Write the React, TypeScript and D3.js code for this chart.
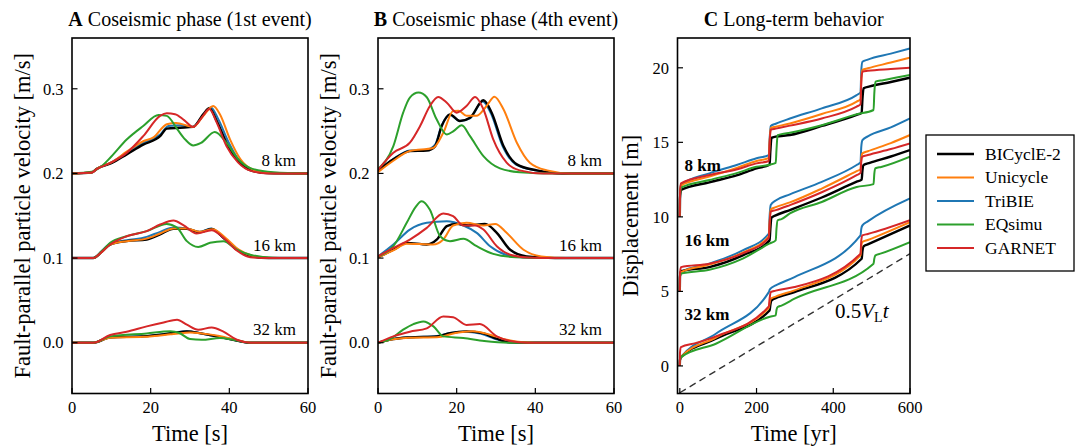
import React from "react";
import * as d3 from "d3";

type Pt = [number, number];

// ---------- shared labels / styling data ----------
const MODELS = ["BICyclE-2", "Unicycle", "TriBIE", "EQsimu", "GARNET"];
const MODEL_COLORS = ["#000000", "#ff7f0e", "#1f77b4", "#2ca02c", "#d62728"];
const DRAW_ORDER = [2, 0, 1, 3, 4];
const DEPTHS = ["8 km", "16 km", "32 km"];
const VEL_OFFSETS = [0.2, 0.1, 0.0];
const DISP_OFFSETS = [10, 5, 0];
const VEL_TICKS = [0, 0.1, 0.2, 0.3];
const SEC_TICKS = [0, 20, 40, 60];
const DISP_TICKS = [0, 5, 10, 15, 20];
const YR_TICKS = [0, 200, 400, 600];
const PLATE_LINE: Pt[] = [[0, -1.8], [600, 7.53]];

// ---------- Panel A: 1st event, velocity [m/s] vs time [s] ----------
// order of each list: BICyclE-2, Unicycle, TriBIE, EQsimu, GARNET
const A_8KM: Pt[][] = [
  [[0,0],[5,0.001],[6.3,0.0055],[10,0.012],[13.9,0.0225],[18.1,0.034],[22.4,0.044],[24.1,0.053],[27.5,0.054],[30.8,0.055],[33.4,0.07],[34.9,0.077],[36.8,0.062],[39.3,0.036],[41.9,0.0166],[45.3,0.004],[49.5,0.0005],[60,0]],
  [[0,0],[5,0.001],[6.3,0.0055],[10,0.013],[14,0.026],[18.1,0.038],[20.7,0.0425],[24.1,0.058],[26.5,0.0596],[30.8,0.055],[33.4,0.068],[35.9,0.0797],[37.6,0.07],[40.2,0.04],[42.8,0.017],[46.2,0.004],[50,0.0005],[60,0]],
  [[0,0],[5,0.001],[6.3,0.0055],[10,0.013],[14,0.025],[18.1,0.036],[22.4,0.046],[24.5,0.056],[27.5,0.057],[30.8,0.055],[33.4,0.069],[35.3,0.078],[37.2,0.064],[39.8,0.037],[42.4,0.016],[45.8,0.004],[50,0.0005],[60,0]],
  [[0,0],[5,0.002],[7.1,0.007],[10,0.02],[13.9,0.04],[18.1,0.056],[22,0.069],[24.1,0.068],[26.8,0.052],[28.8,0.04],[30.8,0.033],[32.8,0.036],[36.3,0.049],[39.3,0.036],[42.2,0.017],[45.5,0.006],[51.2,0.0015],[60,0]],
  [[0,0],[5,0.001],[6.3,0.005],[10,0.013],[13.9,0.0243],[18.1,0.044],[22.4,0.068],[24.1,0.071],[26.2,0.07],[28.5,0.063],[30.8,0.055],[33,0.066],[34.9,0.076],[36.8,0.06],[39.3,0.032],[42.2,0.013],[45.5,0.003],[50,0],[60,0]],
];
const A_16KM: Pt[][] = [
  [[0,0],[5.4,0],[7.5,0.007],[9.7,0.016],[13.9,0.02],[19,0.022],[22.4,0.028],[25.8,0.0345],[29.2,0.0345],[32.5,0.0306],[35.5,0.0345],[38.5,0.024],[41.9,0.01],[45.3,0.0025],[50,0],[60,0]],
  [[0,0],[5.4,0],[7.5,0.007],[9.7,0.016],[13.9,0.02],[19,0.023],[22.4,0.029],[25.8,0.035],[29.2,0.035],[32.5,0.031],[35.8,0.034],[39,0.024],[42.4,0.01],[46,0.0025],[50,0],[60,0]],
  [[0,0],[5.4,0],[7.5,0.008],[9.7,0.017],[13.9,0.021],[19,0.025],[22.4,0.031],[25.8,0.036],[29.2,0.035],[32.5,0.031],[35.3,0.035],[38.5,0.024],[41.9,0.01],[45.3,0.0025],[50,0],[60,0]],
  [[0,0],[5.4,0],[7.5,0.008],[9.7,0.018],[13.9,0.0258],[19,0.0318],[24.1,0.0404],[26.7,0.036],[29.2,0.02],[32.1,0.0132],[35.1,0.018],[38.5,0.02],[41.9,0.01],[45.3,0.004],[51,0.0005],[60,0]],
  [[0,0],[5.4,0],[7.5,0.007],[9.7,0.016],[13.9,0.0258],[19,0.0318],[22.4,0.0396],[25.8,0.0444],[28.4,0.0385],[31.7,0.029],[35.5,0.033],[38.5,0.024],[41.9,0.009],[45.3,0.001],[50,0],[60,0]],
];
const A_32KM: Pt[][] = [
  [[0,0],[5.4,0],[9.7,0.0063],[18.1,0.0075],[25.8,0.0114],[29.2,0.0134],[32.8,0.011],[36.8,0.0075],[41,0.0035],[45,0],[60,0]],
  [[0,0],[5.4,0],[9.7,0.006],[18.1,0.007],[25,0.01],[27,0.011],[30,0.012],[33,0.011],[37.5,0.008],[41.5,0.0035],[46,0],[60,0]],
  [[0,0],[5.4,0],[9.7,0.0063],[18.1,0.0078],[25.8,0.0118],[29.2,0.0136],[32.8,0.011],[36.8,0.0075],[41,0.0035],[45,0],[60,0]],
  [[0,0],[5.4,0],[9.7,0.0075],[19,0.011],[25,0.0134],[27.3,0.0114],[30,0.0043],[33,0.0035],[37.6,0.0055],[41,0.0035],[45,0],[60,0]],
  [[0,0],[5.4,0],[9.7,0.0091],[13.9,0.013],[19,0.0193],[23.3,0.024],[26.7,0.0272],[29.2,0.0213],[32.1,0.0153],[35.5,0.018],[38.5,0.013],[41.9,0.0035],[45.3,0],[60,0]],
];

// ---------- Panel B: 4th event ----------
const B_8KM: Pt[][] = [
  [[0,0.003],[3.9,0.0166],[8.1,0.0264],[12.4,0.027],[14.5,0.032],[16.2,0.056],[18.3,0.0698],[20.8,0.062],[23.4,0.0659],[26.8,0.0864],[28.9,0.0718],[31.9,0.0323],[35.3,0.0107],[40.4,0.0036],[47,0],[60,0]],
  [[0,0.0015],[3.9,0.015],[8.1,0.0264],[14,0.03],[16.6,0.048],[19.1,0.0737],[20.5,0.074],[22.5,0.068],[25,0.068],[27.6,0.0797],[29.6,0.0907],[31.9,0.0758],[35.3,0.0363],[38.6,0.0127],[43,0.0036],[49,0],[60,0]],
  [[0,0.003],[3.9,0.017],[8.1,0.027],[12.4,0.028],[14.5,0.034],[16.2,0.057],[18.3,0.069],[20.8,0.062],[23.4,0.065],[26.6,0.085],[28.7,0.071],[31.7,0.032],[35,0.0107],[40,0.0036],[47,0],[60,0]],
  [[0,0.005],[3.9,0.0323],[6.4,0.0718],[8.1,0.0896],[10.3,0.0955],[12.4,0.09],[14.9,0.0639],[17.5,0.046],[19.2,0.05],[21.3,0.0568],[23.4,0.044],[26.8,0.0205],[31,0.006],[36,0.0015],[45,0],[60,0]],
  [[0,0.004],[3.9,0.0245],[8.1,0.0363],[10.7,0.056],[13.2,0.0797],[15.3,0.0903],[17.5,0.0836],[20,0.0718],[22.5,0.0797],[24.7,0.0903],[26.8,0.0758],[29.3,0.0402],[32.7,0.0127],[36,0.0036],[42,0],[60,0]],
];
const B_16KM: Pt[][] = [
  [[0,0.001],[3.9,0.0098],[7.3,0.018],[12.4,0.016],[15,0.022],[17.5,0.0377],[20,0.0404],[23,0.0385],[27.2,0.0404],[30.2,0.0298],[33.6,0.0098],[37.8,0.002],[45,0],[60,0]],
  [[0,0.001],[3.9,0.009],[7.3,0.017],[14,0.016],[16.6,0.022],[19.1,0.0385],[22.5,0.0416],[26.8,0.0385],[29.8,0.0404],[32.7,0.0298],[37,0.0098],[41.5,0.002],[48,0],[60,0]],
  [[0,0.002],[3.9,0.016],[8.1,0.0337],[12.4,0.0416],[17.5,0.0436],[21.7,0.0385],[25.1,0.0298],[28.5,0.014],[32.5,0.004],[37,0.0008],[45,0],[60,0]],
  [[0,0.002],[3.9,0.014],[7.3,0.0416],[9.5,0.06],[11.1,0.0672],[13.2,0.057],[15.8,0.0258],[18.3,0.02],[21.7,0.0227],[25.1,0.014],[29.3,0.005],[35,0.001],[45,0],[60,0]],
  [[0,0.002],[3.9,0.012],[8.1,0.0219],[12.4,0.0357],[16.6,0.0527],[19.1,0.0495],[21.7,0.0385],[24.7,0.0385],[26.8,0.0337],[30.2,0.014],[33.6,0.004],[38,0.0008],[45,0],[60,0]],
];
const B_32KM: Pt[][] = [
  [[0,0],[3.9,0.0043],[8.1,0.0063],[15,0.0075],[18.3,0.0114],[22.5,0.0134],[26.8,0.011],[30.2,0.0047],[33.6,0.0005],[38,0],[60,0]],
  [[0,0],[3.9,0.004],[8.1,0.006],[15,0.0065],[19.7,0.0114],[24.1,0.0134],[28.5,0.0095],[32.7,0.0035],[37,0.0005],[40,0],[60,0]],
  [[0,0],[3.9,0.0045],[8.1,0.0065],[15,0.008],[18.3,0.0115],[22,0.013],[26,0.011],[29.5,0.005],[33,0.0005],[38,0],[60,0]],
  [[0,0],[3,0.004],[6.4,0.0154],[9,0.022],[11.5,0.0252],[14.1,0.0193],[16.6,0.0075],[21.7,0.0055],[27,0.002],[33,0],[60,0]],
  [[0,0],[3.9,0.0075],[8.1,0.013],[12.4,0.017],[16.6,0.031],[19.1,0.03],[22.5,0.021],[25.9,0.0221],[30.2,0.0075],[33.6,0.002],[38,0],[60,0]],
];

// ---------- Panel C: displacement [m] vs time [yr] ----------
const C_8KM: Pt[][] = [
  [[0,0],[0.5,1.2],[3,1.8],[77,2.32],[150,2.8],[200,3.26],[234,3.5],[236,4.4],[239,5.3],[250,5.38],[287,5.49],[370,6.1],[461,6.85],[474,6.98],[476,7.9],[479,8.62],[495,8.75],[550,9.05],[600,9.34]],
  [[0,0],[0.5,1.5],[3,2.1],[77,2.7],[150,3.3],[200,3.75],[232,3.95],[234,5.0],[237,5.97],[250,6.05],[287,6.27],[370,6.9],[461,7.73],[471,7.9],[473,9.2],[476,9.86],[490,9.97],[550,10.35],[600,10.68]],
  [[0,0],[0.5,1.5],[3,2.15],[77,2.92],[150,3.5],[200,3.93],[232,4.15],[234,5.2],[237,6.1],[250,6.25],[287,6.6],[370,7.28],[461,8.17],[471,8.35],[473,9.8],[476,10.4],[490,10.55],[550,10.95],[600,11.3]],
  [[0,0],[0.5,1.4],[3,1.96],[77,2.47],[150,2.95],[200,3.36],[235,3.5],[250,3.62],[252,4.5],[255,5.48],[265,5.55],[287,5.65],[370,6.15],[461,6.88],[505,7.17],[507,8.3],[510,9.07],[530,9.17],[600,9.52]],
  [[0,0],[0.5,1.6],[3,2.25],[77,2.81],[150,3.2],[200,3.59],[232,3.75],[234,4.9],[237,5.85],[250,5.92],[287,6.12],[370,6.6],[461,7.4],[471,7.55],[473,9.0],[476,9.74],[490,9.8],[550,9.92],[600,10.0]],
];
const C_16KM: Pt[][] = [
  [[0,0],[0.5,1.0],[3,1.35],[77,1.63],[164,2.42],[234,3.42],[236,4.2],[239,4.95],[250,5.1],[287,5.46],[370,6.3],[461,7.36],[474,7.5],[476,8.1],[479,8.48],[495,8.62],[550,9.05],[600,9.48]],
  [[0,0],[0.5,1.0],[3,1.3],[77,1.8],[164,2.6],[232,3.69],[234,4.6],[237,5.5],[250,5.65],[287,5.97],[370,6.9],[461,8.07],[471,8.2],[473,8.9],[476,9.26],[490,9.4],[550,9.95],[600,10.49]],
  [[0,0],[0.5,1.0],[3,1.3],[77,1.86],[164,2.75],[232,3.87],[234,5.0],[237,5.8],[250,6.1],[287,6.51],[370,7.35],[461,8.48],[471,8.65],[473,9.7],[476,10.15],[490,10.4],[550,11.0],[600,11.6]],
  [[0,0],[0.5,1.0],[3,1.19],[77,1.45],[164,2.2],[233,3.2],[250,3.42],[252,4.2],[255,4.77],[265,4.85],[287,5.23],[370,6.0],[461,7.0],[505,7.2],[507,7.9],[510,8.26],[525,8.35],[600,9.04]],
  [[0,0],[0.5,1.2],[3,1.63],[77,1.86],[164,2.55],[232,3.6],[234,4.5],[237,5.35],[250,5.45],[287,5.79],[370,6.65],[461,7.8],[471,7.95],[473,8.7],[476,9.04],[490,9.15],[550,9.55],[600,9.93]],
];
const C_32KM: Pt[][] = [
  [[0,0],[0.5,0.4],[3,0.59],[94,1.82],[234,3.72],[236,4.1],[239,4.4],[250,4.55],[299,4.95],[474,7.19],[476,7.7],[479,8.02],[490,8.15],[600,9.43]],
  [[0,0],[0.5,0.4],[3,0.59],[94,1.9],[232,3.9],[234,4.2],[237,4.5],[250,4.65],[299,5.07],[471,7.42],[473,8.0],[476,8.31],[490,8.45],[600,9.65]],
  [[0,0],[0.5,0.4],[3,0.59],[94,2.16],[232,4.95],[234,5.1],[237,5.2],[250,5.4],[299,5.96],[471,8.76],[473,9.2],[476,9.43],[490,9.7],[600,11.24]],
  [[0,0],[0.5,0.4],[3,0.59],[94,1.49],[235,3.3],[250,3.39],[252,3.75],[255,3.95],[265,4.05],[299,4.51],[505,6.86],[507,7.2],[510,7.42],[525,7.55],[600,8.31]],
  [[0,0],[0.5,0.9],[3,1.26],[41,1.53],[94,1.98],[232,3.99],[234,4.5],[237,4.95],[250,5.05],[299,5.29],[471,7.53],[473,8.4],[476,8.76],[490,8.85],[600,9.77]],
];

const A_DATA = [A_8KM, A_16KM, A_32KM];
const B_DATA = [B_8KM, B_16KM, B_32KM];
const C_DATA = [C_8KM, C_16KM, C_32KM];

// ---------- layout ----------
const FONT = "'Liberation Serif', 'Times New Roman', serif";
const TOP = 38;
const BOTTOM = 393.5;
const TICK_FS = 16.5;
const LABEL_FS = 22.5;

function Frame({ x0, x1 }: { x0: number; x1: number }) {
  return <rect x={x0} y={TOP} width={x1 - x0} height={BOTTOM - TOP} fill="none" stroke="#000" strokeWidth={1.6} />;
}

function Title({ cx, letter, text }: { cx: number; letter: string; text: string }) {
  return (
    <text x={cx} y={26} textAnchor="middle" fontFamily={FONT} fontSize={20} fill="#000">
      <tspan fontWeight="bold">{letter}</tspan>
      <tspan>{" " + text}</tspan>
    </text>
  );
}

function VelPanel({ id, x0, x1, letter, title, data }: { id: string; x0: number; x1: number; letter: string; title: string; data: Pt[][][] }) {
  const x = d3.scaleLinear().domain([0, 60]).range([x0, x1]);
  const y = d3.scaleLinear().domain([-0.06, 0.36]).range([BOTTOM, TOP]);
  const cx = (x0 + x1) / 2;
  const cy = (TOP + BOTTOM) / 2;
  return (
    <g>
      <defs>
        <clipPath id={id}>
          <rect x={x0} y={TOP} width={x1 - x0} height={BOTTOM - TOP} />
        </clipPath>
      </defs>
      <g clipPath={`url(#${id})`}>
        {data.map((group, gi) =>
          DRAW_ORDER.map((mi) => {
            const line = d3
              .line<Pt>()
              .x((d) => x(d[0]))
              .y((d) => y(d[1] + VEL_OFFSETS[gi]))
              .curve(d3.curveMonotoneX);
            return (
              <path key={`${gi}-${mi}`} d={line(group[mi]) || ""} fill="none" stroke={MODEL_COLORS[mi]} strokeWidth={mi === 0 ? 2.4 : 2} strokeLinejoin="round" />
            );
          })
        )}
      </g>
      {DEPTHS.map((lab, gi) => (
        <text key={lab} x={x1 - 12} y={y(VEL_OFFSETS[gi]) - 7.5} textAnchor="end" fontFamily={FONT} fontSize={17} fill="#000">
          {lab}
        </text>
      ))}
      <Frame x0={x0} x1={x1} />
      {VEL_TICKS.map((t) => (
        <g key={t}>
          <line x1={x0} x2={x0 + 5.5} y1={y(t)} y2={y(t)} stroke="#000" strokeWidth={1.2} />
          <text x={x0 - 8.5} y={y(t)} dy="0.35em" textAnchor="end" fontFamily={FONT} fontSize={TICK_FS} fill="#000">
            {t.toFixed(1)}
          </text>
        </g>
      ))}
      {SEC_TICKS.map((t) => (
        <g key={t}>
          <line x1={x(t)} x2={x(t)} y1={BOTTOM} y2={BOTTOM - 5.5} stroke="#000" strokeWidth={1.2} />
          <text x={x(t)} y={413} textAnchor="middle" fontFamily={FONT} fontSize={TICK_FS} fill="#000">
            {t}
          </text>
        </g>
      ))}
      <text x={cx} y={441} textAnchor="middle" fontFamily={FONT} fontSize={LABEL_FS} fill="#000">
        Time [s]
      </text>
      <text transform={`translate(${x0 - 42},${cy}) rotate(-90)`} textAnchor="middle" fontFamily={FONT} fontSize={LABEL_FS} fill="#000">
        Fault-parallel particle velocity [m/s]
      </text>
      <Title cx={cx} letter={letter} text={title} />
    </g>
  );
}

function DispPanel({ x0, x1 }: { x0: number; x1: number }) {
  const x = d3.scaleLinear().domain([-6, 600]).range([x0, x1]);
  const y = d3.scaleLinear().domain([-1.85, 22]).range([BOTTOM, TOP]);
  const cx = (x0 + x1) / 2;
  const cy = (TOP + BOTTOM) / 2;
  const dashed = d3.line<Pt>().x((d) => x(d[0])).y((d) => y(d[1]));
  return (
    <g>
      <defs>
        <clipPath id="clipC">
          <rect x={x0} y={TOP} width={x1 - x0} height={BOTTOM - TOP} />
        </clipPath>
      </defs>
      <g clipPath="url(#clipC)">
        <path d={dashed(PLATE_LINE) || ""} fill="none" stroke="#333" strokeWidth={1.4} strokeDasharray="7,4.5" />
        {C_DATA.map((group, gi) =>
          DRAW_ORDER.map((mi) => {
            const line = d3
              .line<Pt>()
              .x((d) => x(d[0]))
              .y((d) => y(d[1] + DISP_OFFSETS[gi]))
              .curve(d3.curveMonotoneX);
            return (
              <path key={`${gi}-${mi}`} d={line(group[mi]) || ""} fill="none" stroke={MODEL_COLORS[mi]} strokeWidth={mi === 0 ? 2.4 : 2} strokeLinejoin="round" />
            );
          })
        )}
      </g>
      {DEPTHS.map((lab, gi) => (
        <text key={lab} x={x0 + 7} y={y(DISP_OFFSETS[gi] + 3.05)} fontFamily={FONT} fontWeight="bold" fontSize={17} fill="#000">
          {lab}
        </text>
      ))}
      <text x={835} y={318} fontFamily={FONT} fontSize={21} fill="#000">
        <tspan>0.5</tspan>
        <tspan fontStyle="italic">V</tspan>
        <tspan fontSize={14} dy={4}>L</tspan>
        <tspan fontStyle="italic" dy={-4}>t</tspan>
      </text>
      <Frame x0={x0} x1={x1} />
      {DISP_TICKS.map((t) => (
        <g key={t}>
          <line x1={x0} x2={x0 + 5.5} y1={y(t)} y2={y(t)} stroke="#000" strokeWidth={1.2} />
          <text x={x0 - 8.5} y={y(t)} dy="0.35em" textAnchor="end" fontFamily={FONT} fontSize={TICK_FS} fill="#000">
            {t}
          </text>
        </g>
      ))}
      {YR_TICKS.map((t) => (
        <g key={t}>
          <line x1={x(t)} x2={x(t)} y1={BOTTOM} y2={BOTTOM - 5.5} stroke="#000" strokeWidth={1.2} />
          <text x={x(t)} y={413} textAnchor="middle" fontFamily={FONT} fontSize={TICK_FS} fill="#000">
            {t}
          </text>
        </g>
      ))}
      <text x={cx} y={441} textAnchor="middle" fontFamily={FONT} fontSize={LABEL_FS} fill="#000">
        Time [yr]
      </text>
      <text transform={`translate(${x0 - 39.5},${cy}) rotate(-90)`} textAnchor="middle" fontFamily={FONT} fontSize={LABEL_FS} fill="#000">
        Displacement [m]
      </text>
      <Title cx={cx} letter="C" text="Long-term behavior" />
    </g>
  );
}

function Legend() {
  const lx = 926;
  const ly = 135;
  const rows = d3.scaleLinear().domain([0, 4]).range([154, 248]);
  return (
    <g>
      <rect x={lx} y={ly} width={148} height={136} fill="#fff" stroke="#000" strokeWidth={1.3} />
      {MODELS.map((m, i) => (
        <g key={m}>
          <line x1={937} x2={974} y1={rows(i)} y2={rows(i)} stroke={MODEL_COLORS[i]} strokeWidth={i === 0 ? 2.6 : 2.2} />
          <text x={985} y={rows(i)} dy="0.33em" fontFamily={FONT} fontSize={17.5} fill="#000">
            {m}
          </text>
        </g>
      ))}
    </g>
  );
}

export default function App() {
  return (
    <svg width={1079} height={447} viewBox="0 0 1079 447" style={{ position: "fixed", left: 0, top: 0, background: "#fff" }}>
      <rect x={0} y={0} width={1079} height={447} fill="#fff" />
      <VelPanel id="clipA" x0={72} x1={308} letter="A" title="Coseismic phase (1st event)" data={A_DATA} />
      <VelPanel id="clipB" x0={378} x1={614} letter="B" title="Coseismic phase (4th event)" data={B_DATA} />
      <DispPanel x0={677.5} x1={910} />
      <Legend />
    </svg>
  );
}
